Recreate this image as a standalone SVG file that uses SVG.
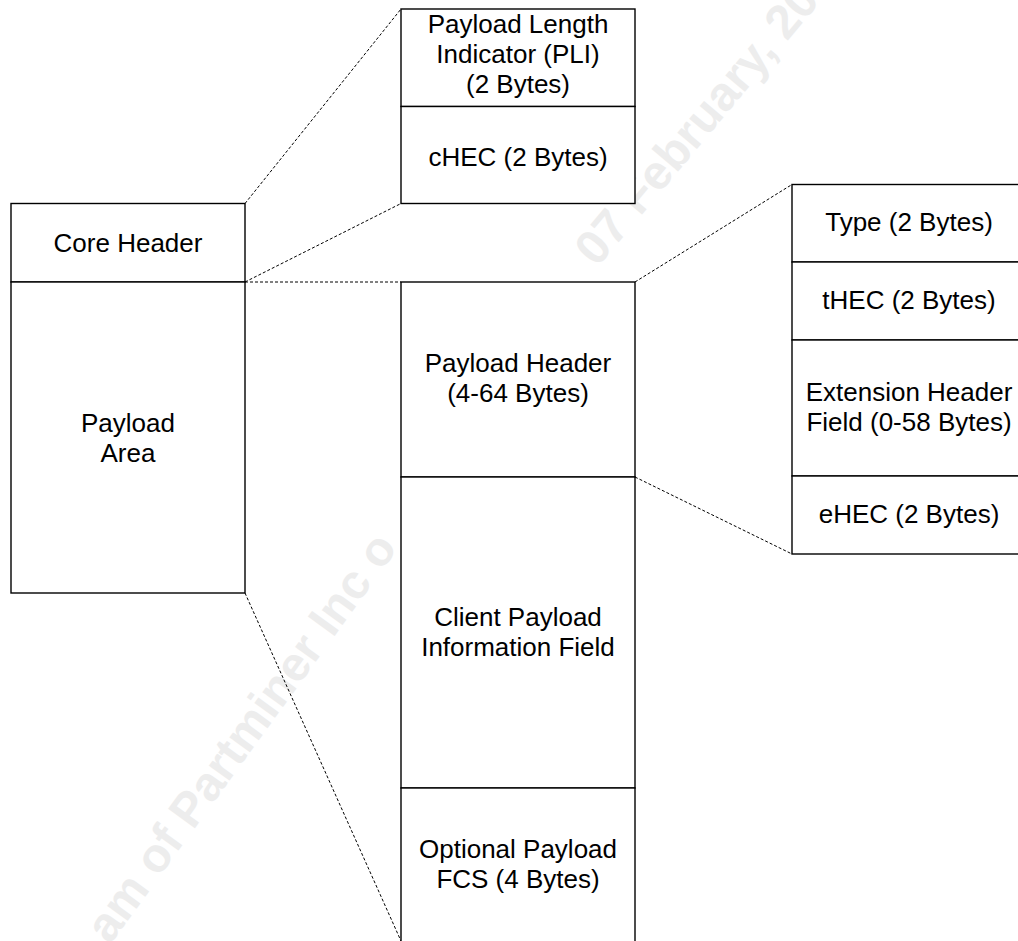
<svg xmlns="http://www.w3.org/2000/svg" width="1018" height="941" viewBox="0 0 1018 941">
  <style>
    .cell { fill: #ffffff; stroke: #000000; stroke-width: 1.4; }
    .lbl { font-family: "Liberation Sans", Arial, sans-serif; font-size: 26px; fill: #000000; text-anchor: middle; }
    .zoom { fill: none; stroke: #000000; stroke-width: 1; stroke-dasharray: 3 2; }
    .mark { font-family: "Liberation Sans", Arial, sans-serif; font-size: 48px; font-weight: bold; fill: #ededed; }
  </style>
  <rect width="1018" height="941" fill="#ffffff"/>

  <!-- faint background watermark, partly covered by the frame cells -->
  <g id="watermark">
    <text class="mark" transform="translate(110 945) rotate(-54)">am of Partminer Inc o</text>
    <text class="mark" transform="translate(597 268) rotate(-50)">07 February, 20</text>
  </g>

  <!-- dashed expansion lines between a field and its breakdown -->
  <g id="connectors">
    <line class="zoom" x1="245" y1="203.5" x2="401" y2="9"/>
    <line class="zoom" x1="245" y1="282" x2="401" y2="203.5"/>
    <line class="zoom" x1="245" y1="282" x2="401" y2="282"/>
    <line class="zoom" x1="245" y1="593" x2="401" y2="941"/>
    <line class="zoom" x1="635" y1="282" x2="792" y2="184.5"/>
    <line class="zoom" x1="635" y1="477" x2="792" y2="554"/>
  </g>

  <!-- GFP frame -->
  <g id="core-header">
    <rect class="cell" x="11" y="203.5" width="234" height="78.5"/>
    <text class="lbl" x="128" y="252">Core Header</text>
  </g>
  <g id="payload-area">
    <rect class="cell" x="11" y="282" width="234" height="311"/>
    <text class="lbl" x="128" y="432">Payload</text>
    <text class="lbl" x="128" y="462">Area</text>
  </g>

  <!-- core header breakdown -->
  <g id="pli">
    <rect class="cell" x="401" y="9" width="234" height="97.5"/>
    <text class="lbl" x="518" y="33">Payload Length</text>
    <text class="lbl" x="518" y="63">Indicator (PLI)</text>
    <text class="lbl" x="518" y="93">(2 Bytes)</text>
  </g>
  <g id="chec">
    <rect class="cell" x="401" y="106.5" width="234" height="97"/>
    <text class="lbl" x="518" y="166">cHEC (2 Bytes)</text>
  </g>

  <!-- payload area breakdown -->
  <g id="payload-header">
    <rect class="cell" x="401" y="282" width="234" height="195"/>
    <text class="lbl" x="518" y="372">Payload Header</text>
    <text class="lbl" x="518" y="402">(4-64 Bytes)</text>
  </g>
  <g id="client-payload">
    <rect class="cell" x="401" y="477" width="234" height="311"/>
    <text class="lbl" x="518" y="626">Client Payload</text>
    <text class="lbl" x="518" y="656">Information Field</text>
  </g>
  <g id="payload-fcs">
    <rect class="cell" x="401" y="788" width="234" height="170"/>
    <text class="lbl" x="518" y="858">Optional Payload</text>
    <text class="lbl" x="518" y="888">FCS (4 Bytes)</text>
  </g>

  <!-- payload header breakdown -->
  <g id="type">
    <rect class="cell" x="792" y="184.5" width="234" height="77.5"/>
    <text class="lbl" x="909" y="231">Type (2 Bytes)</text>
  </g>
  <g id="thec">
    <rect class="cell" x="792" y="262" width="234" height="78"/>
    <text class="lbl" x="909" y="309">tHEC (2 Bytes)</text>
  </g>
  <g id="extension-header">
    <rect class="cell" x="792" y="340" width="234" height="136"/>
    <text class="lbl" x="909" y="401">Extension Header</text>
    <text class="lbl" x="909" y="431">Field (0-58 Bytes)</text>
  </g>
  <g id="ehec">
    <rect class="cell" x="792" y="476" width="234" height="78"/>
    <text class="lbl" x="909" y="523">eHEC (2 Bytes)</text>
  </g>
</svg>
